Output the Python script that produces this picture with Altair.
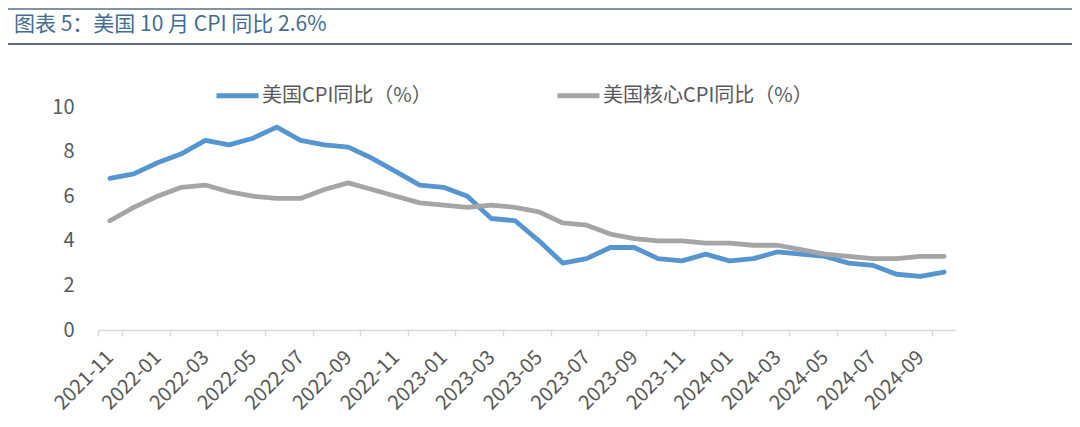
import altair as alt
import pandas as pd

# ---- data ----
months = [
    "2021-11", "2021-12",
    "2022-01", "2022-02", "2022-03", "2022-04", "2022-05", "2022-06",
    "2022-07", "2022-08", "2022-09", "2022-10", "2022-11", "2022-12",
    "2023-01", "2023-02", "2023-03", "2023-04", "2023-05", "2023-06",
    "2023-07", "2023-08", "2023-09", "2023-10", "2023-11", "2023-12",
    "2024-01", "2024-02", "2024-03", "2024-04", "2024-05", "2024-06",
    "2024-07", "2024-08", "2024-09", "2024-10",
]
cpi = [6.8, 7.0,
       7.5, 7.9, 8.5, 8.3, 8.6, 9.1, 8.5, 8.3, 8.2, 7.7, 7.1, 6.5,
       6.4, 6.0, 5.0, 4.9, 4.0, 3.0, 3.2, 3.7, 3.7, 3.2, 3.1, 3.4,
       3.1, 3.2, 3.5, 3.4, 3.3, 3.0, 2.9, 2.5, 2.4, 2.6]
core = [4.9, 5.5,
        6.0, 6.4, 6.5, 6.2, 6.0, 5.9, 5.9, 6.3, 6.6, 6.3, 6.0, 5.7,
        5.6, 5.5, 5.6, 5.5, 5.3, 4.8, 4.7, 4.3, 4.1, 4.0, 4.0, 3.9,
        3.9, 3.8, 3.8, 3.6, 3.4, 3.3, 3.2, 3.2, 3.3, 3.3]
series_names = ["美国CPI同比（%）", "美国核心CPI同比（%）"]
series_colors = ["#5696D0", "#A5A5A5"]
x_tick_labels = months[::2]
y_ticks = [0, 2, 4, 6, 8, 10]
title_text = "图表 5：美国 10 月 CPI 同比 2.6%"

df = pd.DataFrame({
    "month": months + months,
    "value": cpi + core,
    "series": [series_names[0]] * len(months) + [series_names[1]] * len(months),
})

FONT = "Noto Sans CJK SC"
W, H = 858, 223
PAD_L, PAD_T, PAD_R, PAD_B = 90, 99, 116, 88

lines = alt.Chart(df).mark_line(
    strokeWidth=4.8, strokeJoin="round", strokeCap="round"
).encode(
    x=alt.X(
        "month:O",
        sort=months,
        scale=alt.Scale(type="band", paddingInner=0, paddingOuter=0),
        axis=alt.Axis(
            values=x_tick_labels,
            tickBand="extent",
            title=None,
            labelAngle=-45,
            labelAlign="right",
            labelBaseline="middle",
            labelFont=FONT,
            labelFontSize=20,
            labelColor="#595959",
            labelPadding=18,
            domainColor="#D9D9D9",
            domainWidth=1.5,
            tickColor="#D9D9D9",
            tickWidth=1.5,
            tickSize=6,
            grid=False,
        ),
    ),
    y=alt.Y(
        "value:Q",
        scale=alt.Scale(domain=[0, 10], nice=False),
        axis=alt.Axis(
            values=y_ticks,
            title=None,
            domain=False,
            ticks=False,
            grid=False,
            labelFont=FONT,
            labelFontSize=20,
            labelColor="#595959",
            labelPadding=24,
        ),
    ),
    color=alt.Color(
        "series:N",
        scale=alt.Scale(domain=series_names, range=series_colors),
        legend=alt.Legend(
            orient="none",
            legendX=116,
            legendY=-35,
            direction="horizontal",
            title=None,
            symbolType="stroke",
            symbolSize=1764,
            symbolStrokeWidth=4.8,
            labelFont=FONT,
            labelFontSize=20,
            labelColor="#595959",
            labelOffset=1,
            columnPadding=115,
            labelLimit=400,
        ),
    ),
)

one = pd.DataFrame({"t": [title_text]})

top_rule = alt.Chart(one).mark_rule(color="#5A6F86", strokeWidth=1.5).encode(
    x=alt.value(-PAD_L), x2=alt.value(W + PAD_R), y=alt.value(-PAD_T + 1)
)
mid_rule = alt.Chart(one).mark_rule(color="#5A6F86", strokeWidth=2).encode(
    x=alt.value(-PAD_L), x2=alt.value(W + PAD_R), y=alt.value(-63)
)
title = alt.Chart(one).mark_text(
    align="left", baseline="middle", font=FONT, fontSize=21, color="#456C92"
).encode(x=alt.value(-84), y=alt.value(-82), text="t:N")

chart = alt.layer(top_rule, mid_rule, title, lines).properties(
    width=W,
    height=H,
    autosize=alt.AutoSizeParams(type="none"),
    padding={"left": PAD_L, "top": PAD_T, "right": PAD_R, "bottom": PAD_B},
    background="white",
).configure_view(stroke=None)

chart.save("out.html", embed_options={"renderer": "svg", "actions": False})
